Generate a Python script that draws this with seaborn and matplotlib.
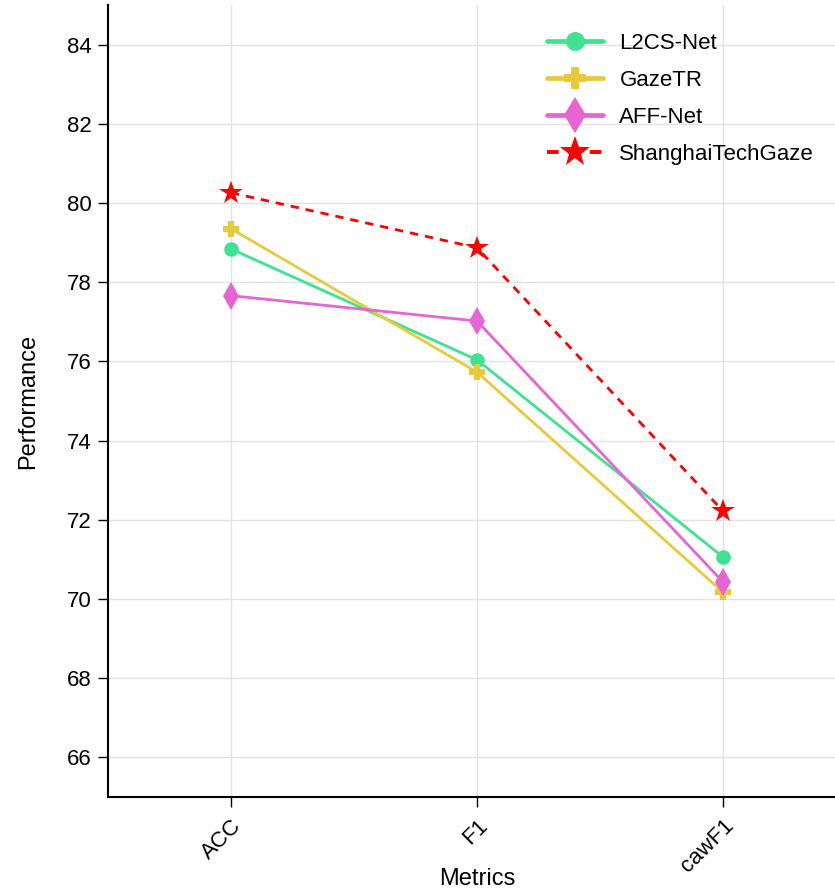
import matplotlib
matplotlib.use("Agg")
import matplotlib.pyplot as plt
import seaborn as sns
import pandas as pd

metrics = ["ACC", "F1", "cawF1"]
models = ["L2CS-Net", "GazeTR", "AFF-Net", "ShanghaiTechGaze"]
l2cs = [78.84, 76.04, 71.06]
gazetr = [79.35, 75.73, 70.17]
affnet = [77.66, 77.02, 70.43]
shanghai = [80.26, 78.87, 72.22]
colors = ["#3de391", "#e8c93a", "#e765d2", "#ff0000"]
y_ticks = [66, 68, 70, 72, 74, 76, 78, 80, 82, 84]

rows = []
for name, vals in zip(models, [l2cs, gazetr, affnet, shanghai]):
    for i, (m, v) in enumerate(zip(metrics, vals)):
        rows.append({"Model": name, "Metrics": m, "x": i, "Performance": v})
df = pd.DataFrame(rows)

sns.set_theme(style="white")
plt.rcParams["font.family"] = ["Liberation Sans", "DejaVu Sans"]
plt.rcParams["text.color"] = "black"
plt.rcParams["axes.labelcolor"] = "black"
plt.rcParams["xtick.color"] = "black"
plt.rcParams["ytick.color"] = "black"

fig = plt.figure(figsize=(8.35, 8.9), dpi=100)
ax = fig.add_axes([108/835, 93/890, (846-108)/835, (797-5)/890])

marker_map = {"L2CS-Net": "o", "GazeTR": "P", "AFF-Net": "d", "ShanghaiTechGaze": "*"}
size_map = {"L2CS-Net": 10.5, "GazeTR": 12, "AFF-Net": 14, "ShanghaiTechGaze": 17.5}
dash_map = {"L2CS-Net": "", "GazeTR": "", "AFF-Net": "", "ShanghaiTechGaze": (3, 2.5)}

sns.lineplot(data=df, x="x", y="Performance", hue="Model", style="Model",
             hue_order=models, style_order=models, palette=colors,
             markers=marker_map, dashes=dash_map, linewidth=2, ax=ax,
             markeredgewidth=0, legend=True)
for line, m in zip(ax.lines, models):
    line.set_markersize(size_map[m])

ax.set_xlim(-0.5, 2.5)
ax.set_ylim(65, 85)
ax.set_xticks(range(len(metrics)))
ax.set_xticklabels(metrics, rotation=45, ha="right", rotation_mode="anchor", fontsize=16)
ax.set_yticks(y_ticks)
ax.tick_params(axis="y", labelsize=16, pad=5)
ax.tick_params(axis="x", pad=6)
ax.tick_params(axis="both", direction="out", length=7, width=1, color="black", bottom=True, left=True)
ax.grid(True, color="#e3e3e3", linewidth=1)
for s in ["top", "right"]:
    ax.spines[s].set_visible(False)
for s in ["left", "bottom"]:
    ax.spines[s].set_color("black")
    ax.spines[s].set_linewidth(1.5)

ax.set_xlabel("Metrics", fontsize=17)
ax.xaxis.set_label_coords(0.5, -0.09)
ax.set_ylabel("Performance", fontsize=17, labelpad=20)

leg = ax.legend(loc="upper right", bbox_to_anchor=(0.984, 0.99), frameon=False, fontsize=16,
                handlelength=2.5, handletextpad=0.75, labelspacing=0.72)
for h, m in zip(leg.legend_handles, models):
    h.set_linewidth(3.4 if m != "ShanghaiTechGaze" else 2.8)
    h.set_markersize(size_map[m] * 1.3)

fig.savefig("out.png", dpi=100)
